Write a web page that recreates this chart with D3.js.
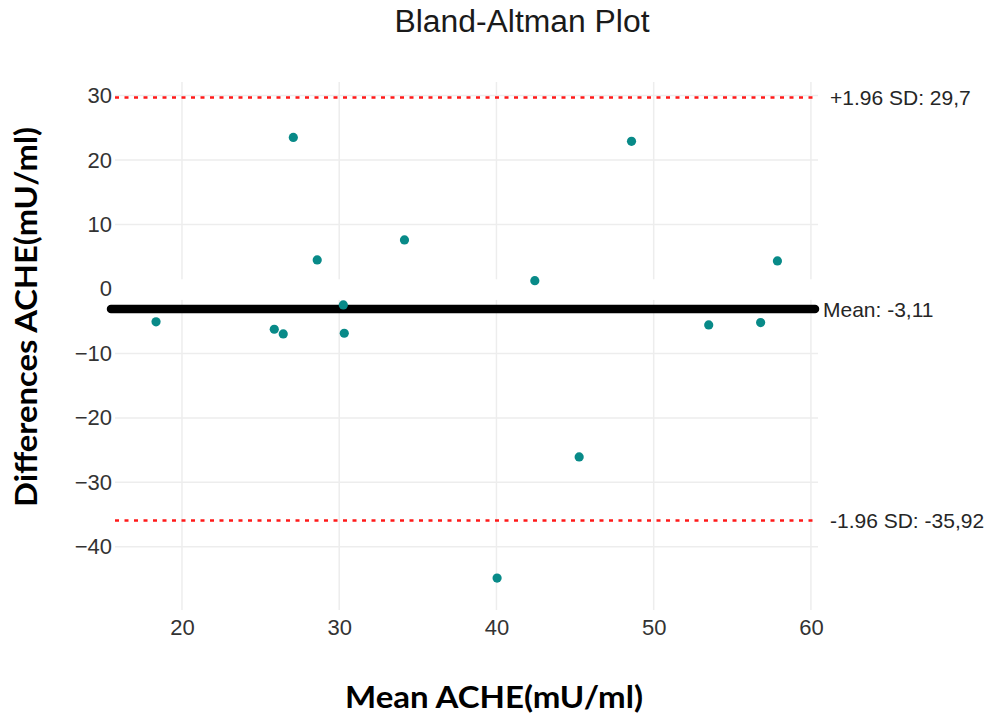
<!DOCTYPE html>
<html>
<head>
<meta charset="utf-8">
<script src="https://cdn.jsdelivr.net/npm/d3@7"></script>
<style>
body{margin:0;background:#fff;}
svg{display:block;}
</style>
</head>
<body>
<svg></svg>
<script>
// mean (x) and difference (y) for each subject
var meanVals=[18.35,27.08,28.6,25.87,26.44,30.26,30.32,34.15,42.44,48.59,57.87,53.5,56.8,45.26,40.04]
var diffVals=[-5.1,23.5,4.5,-6.25,-6.98,-2.48,-6.87,7.6,1.29,22.9,4.34,-5.58,-5.22,-26.05,-44.85]

var xTicks=[20,30,40,50,60]
var yTicks=[-40,-30,-20,-10,0,10,20,30]

var meanDiff=-3.11
var upperLoA=29.7
var lowerLoA=-35.92
var lineLabels=["+1.96 SD: 29,7","Mean: -3,11","-1.96 SD: -35,92"]

var screen={width:1000,height:722}
var plot={left:115,right:818,top:82,bottom:610}

var svg=d3.select("svg")
    .attr("width",screen.width)
    .attr("height",screen.height)

var xScale=d3.scaleLinear()
    .domain([15.74,60.45])
    .range([plot.left,plot.right])

var yScale=d3.scaleLinear()
    .domain([-49.8,32.1])
    .range([plot.bottom,plot.top])

// grid
var grid=svg.append("g").attr("id","grid")
grid.selectAll(".vgrid")
    .data(xTicks)
    .enter()
    .append("line")
    .attr("x1",function(d){return xScale(d)})
    .attr("x2",function(d){return xScale(d)})
    .attr("y1",plot.top)
    .attr("y2",plot.bottom)
    .attr("stroke","#ededed")
    .attr("stroke-width",1.5)
grid.selectAll(".hgrid")
    .data(yTicks)
    .enter()
    .append("line")
    .attr("x1",plot.left)
    .attr("x2",plot.right)
    .attr("y1",function(d){return yScale(d)})
    .attr("y2",function(d){return yScale(d)})
    .attr("stroke","#ededed")
    .attr("stroke-width",1.5)

// white band around the mean line (as in the reference)
svg.append("rect")
    .attr("x",plot.left-2)
    .attr("y",yScale(1.5))
    .attr("width",plot.right-plot.left+4)
    .attr("height",yScale(-1.7)-yScale(1.5))
    .attr("fill","#fff")

// axes
var xAxis=d3.axisBottom(xScale).tickValues(xTicks).tickSize(0).tickPadding(9)
var yAxis=d3.axisLeft(yScale).tickValues(yTicks).tickSize(0).tickPadding(3)

var gx=svg.append("g")
    .attr("transform","translate(0,"+plot.bottom+")")
    .call(xAxis)
var gy=svg.append("g")
    .attr("transform","translate("+plot.left+",0)")
    .call(yAxis)
svg.selectAll(".domain").remove()
svg.selectAll(".tick text")
    .attr("font-family","'Liberation Sans', Arial, sans-serif")
    .attr("font-size",22)
    .attr("fill","#333")

// limits of agreement
svg.selectAll(".loa")
    .data([upperLoA,lowerLoA])
    .enter()
    .append("line")
    .attr("x1",plot.left)
    .attr("x2",plot.right)
    .attr("y1",function(d){return yScale(d)})
    .attr("y2",function(d){return yScale(d)})
    .attr("stroke","#ff1a1a")
    .attr("stroke-width",2.5)
    .attr("stroke-dasharray","4,5.5")

// mean line
svg.append("line")
    .attr("x1",plot.left-4)
    .attr("x2",plot.right-3)
    .attr("y1",yScale(meanDiff))
    .attr("y2",yScale(meanDiff))
    .attr("stroke","#000")
    .attr("stroke-width",8.5)
    .attr("stroke-linecap","round")

// points
svg.selectAll("circle")
    .data(meanVals)
    .enter()
    .append("circle")
    .attr("cx",function(d){return xScale(d)})
    .attr("cy",function(d,i){return yScale(diffVals[i])})
    .attr("r",4.6)
    .attr("fill","#088a88")

// line labels
svg.selectAll(".linelabel")
    .data([upperLoA,meanDiff,lowerLoA])
    .enter()
    .append("text")
    .attr("x",function(d,i){return i==1 ? plot.right+5 : plot.right+12})
    .attr("y",function(d){return yScale(d)})
    .attr("dy","0.36em")
    .attr("font-family","'Liberation Sans', Arial, sans-serif")
    .attr("font-size",21)
    .attr("fill","#262626")
    .text(function(d,i){return lineLabels[i]})

// title
svg.append("text")
    .attr("x",522)
    .attr("y",32)
    .attr("text-anchor","middle")
    .attr("font-family","'Liberation Sans', Arial, sans-serif")
    .attr("font-size",31)
    .attr("fill","#1a1a1a")
    .attr("textLength",255)
    .attr("lengthAdjust","spacingAndGlyphs")
    .text("Bland-Altman Plot")

// axis titles
svg.append("text")
    .attr("x",494)
    .attr("y",708)
    .attr("text-anchor","middle")
    .attr("font-family","Lato, 'Open Sans', sans-serif")
    .attr("font-weight","bold")
    .attr("font-size",31)
    .attr("textLength",298)
    .attr("lengthAdjust","spacingAndGlyphs")
    .attr("fill","#000")
    .text("Mean ACHE(mU/ml)")

svg.append("text")
    .attr("transform","translate(37,317) rotate(-90)")
    .attr("text-anchor","middle")
    .attr("font-family","Lato, 'Open Sans', sans-serif")
    .attr("font-weight","bold")
    .attr("font-size",31)
    .attr("textLength",380)
    .attr("lengthAdjust","spacingAndGlyphs")
    .attr("fill","#000")
    .text("Differences ACHE(mU/ml)")
</script>
</body>
</html>
